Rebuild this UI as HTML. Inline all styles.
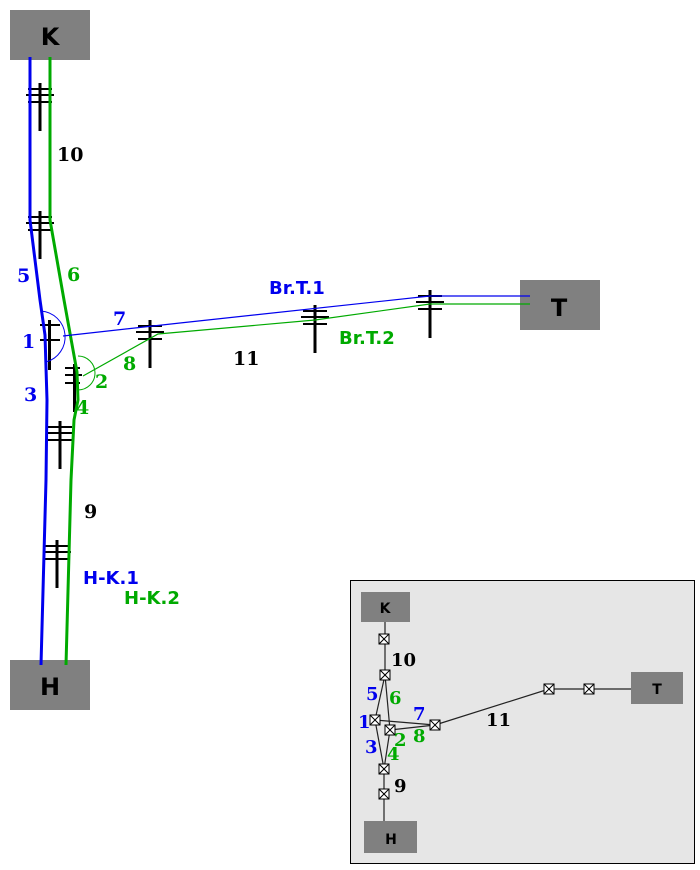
<!DOCTYPE html>
<html><head><style>body{margin:0;background:#fff}svg{display:block}</style></head><body>
<svg width="700" height="870" viewBox="0 0 700 870" xmlns="http://www.w3.org/2000/svg">
<defs>
<g id="tw"><rect x="-1.5" y="0" width="3" height="48" fill="#000"/><line x1="-12" y1="6" x2="12" y2="6" stroke="#000" stroke-width="2"/><line x1="-14" y1="12" x2="14" y2="12" stroke="#000" stroke-width="2"/><line x1="-12" y1="19" x2="12" y2="19" stroke="#000" stroke-width="2"/></g>
<g id="mk"><rect x="-5" y="-5" width="10" height="10" fill="#fff" stroke="#000" stroke-width="1"/><line x1="-5" y1="-5" x2="5" y2="5" stroke="#000"/><line x1="5" y1="-5" x2="-5" y2="5" stroke="#000"/></g>
</defs>
<rect x="10" y="10" width="80" height="50" fill="#808080"/>
<text x="50" y="45" font-family="DejaVu Sans,sans-serif" font-weight="bold" font-size="24" text-anchor="middle">K</text>
<rect x="10" y="660" width="80" height="50" fill="#808080"/>
<text x="50" y="695" font-family="DejaVu Sans,sans-serif" font-weight="bold" font-size="24" text-anchor="middle">H</text>
<rect x="520" y="280" width="80" height="50" fill="#808080"/>
<text x="559" y="316" font-family="DejaVu Sans,sans-serif" font-weight="bold" font-size="24" text-anchor="middle">T</text>

<use href="#tw" x="40" y="83"/>
<use href="#tw" x="40" y="211"/>
<use href="#tw" x="60" y="421"/>
<use href="#tw" x="57" y="540"/>
<use href="#tw" x="150" y="320"/>
<use href="#tw" x="315" y="305"/>
<use href="#tw" x="430" y="290"/>
<g fill="#000"><rect x="48" y="320" width="3" height="50"/><rect x="73" y="364" width="3" height="48"/></g>
<g stroke="#000" stroke-width="2"><line x1="40" y1="325" x2="60" y2="325"/><line x1="40" y1="340" x2="60" y2="340"/><line x1="65" y1="368" x2="80" y2="368"/><line x1="65" y1="375" x2="82" y2="375"/><line x1="65" y1="383" x2="80" y2="383"/></g>

<polyline points="30,57 30,220 40,300 45,335 47,400 46,480 41,665" fill="none" stroke="#0000ee" stroke-width="3"/>
<polyline points="50,57 50,220 64,300 77,372 78,400 74,420 71,480 66,665" fill="none" stroke="#00aa00" stroke-width="3"/>
<path d="M41,311 A26,26 0 0 1 46,362" fill="none" stroke="#0000ee" stroke-width="1"/>
<path d="M78,356 A16,16 0 0 1 78,390" fill="none" stroke="#00aa00" stroke-width="1"/>
<polyline points="63,336 180,323 430,296 530,296" fill="none" stroke="#0000ee" stroke-width="1.2"/>
<polyline points="83,376 158,334 315,320 430,304 530,304" fill="none" stroke="#00aa00" stroke-width="1.2"/>

<g font-family="DejaVu Serif,serif" font-weight="bold" font-size="19">
<text x="57" y="161">10</text>
<text x="233" y="365">11</text>
<text x="84" y="518">9</text>
<g fill="#0000ee"><text x="17" y="282">5</text><text x="22" y="348">1</text><text x="24" y="401">3</text><text x="113" y="325">7</text></g>
<g fill="#00aa00"><text x="67" y="281">6</text><text x="95" y="388">2</text><text x="76" y="414">4</text><text x="123" y="370">8</text></g>
</g>
<g font-family="DejaVu Sans,sans-serif" font-weight="bold" font-size="18">
<text x="269" y="294" fill="#0000ee">Br.T.1</text>
<text x="339" y="344" fill="#00aa00">Br.T.2</text>
<text x="83" y="584" fill="#0000ee">H-K.1</text>
<text x="124" y="604" fill="#00aa00">H-K.2</text>
</g>

<rect x="350.5" y="580.5" width="344" height="283" fill="#e6e6e6" stroke="#000"/>
<rect x="361" y="592" width="49" height="30" fill="#808080"/>
<text x="385" y="613" font-family="DejaVu Sans,sans-serif" font-weight="bold" font-size="14" text-anchor="middle">K</text>
<rect x="364" y="821" width="53" height="32" fill="#808080"/>
<text x="391" y="844" font-family="DejaVu Sans,sans-serif" font-weight="bold" font-size="14" text-anchor="middle">H</text>
<rect x="631" y="672" width="52" height="32" fill="#808080"/>
<text x="657" y="694" font-family="DejaVu Sans,sans-serif" font-weight="bold" font-size="14" text-anchor="middle">T</text>
<g fill="none" stroke="#222" stroke-width="1.2">
<polyline points="385,622 385,675"/>
<polyline points="385,675 375,720 384,769"/>
<polyline points="385,675 390,730 384,769"/>
<polyline points="375,720 435,725"/>
<polyline points="390,730 435,725"/>
<polyline points="435,725 549,689 631,689"/>
<polyline points="384,769 384,821"/>
</g>
<use href="#mk" x="384" y="639"/>
<use href="#mk" x="385" y="675"/>
<use href="#mk" x="375" y="720"/>
<use href="#mk" x="390" y="730"/>
<use href="#mk" x="435" y="725"/>
<use href="#mk" x="384" y="769"/>
<use href="#mk" x="384" y="794"/>
<use href="#mk" x="549" y="689"/>
<use href="#mk" x="589" y="689"/>
<g font-family="DejaVu Serif,serif" font-weight="bold" font-size="18">
<text x="391" y="666">10</text>
<text x="486" y="726">11</text>
<text x="394" y="792">9</text>
<g fill="#0000ee"><text x="366" y="700">5</text><text x="358" y="728">1</text><text x="365" y="753">3</text><text x="413" y="720">7</text></g>
<g fill="#00aa00"><text x="389" y="704">6</text><text x="394" y="746">2</text><text x="387" y="760">4</text><text x="413" y="742">8</text></g>
</g>
</svg>
</body></html>
